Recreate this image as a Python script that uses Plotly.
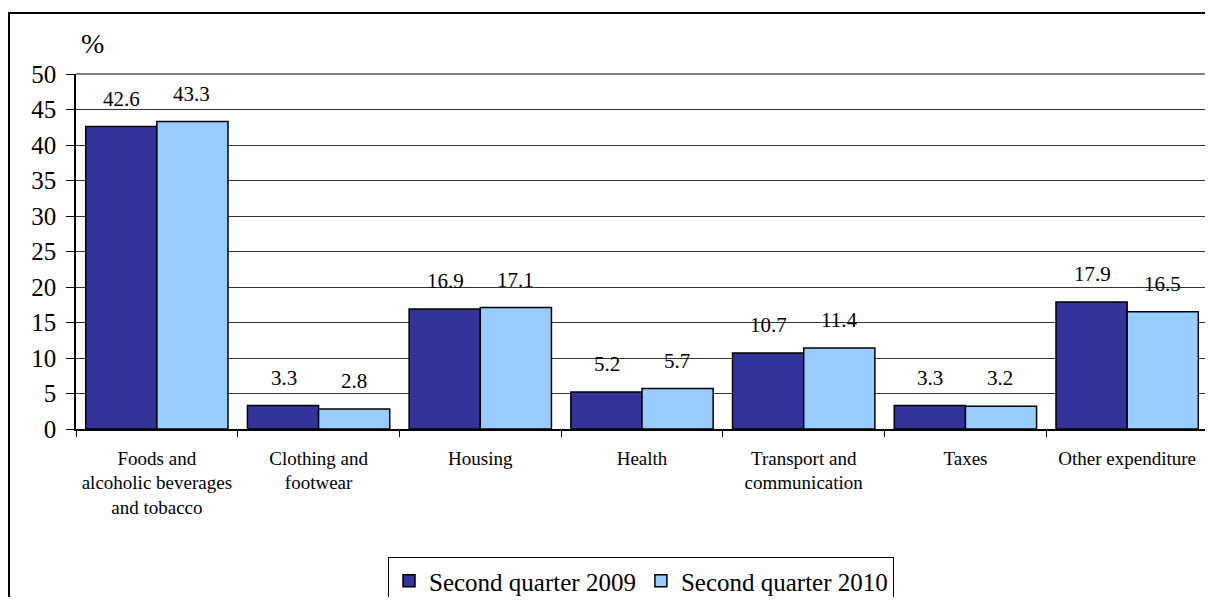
import plotly.graph_objects as go

categories = ["Foods and<br>alcoholic beverages<br>and tobacco", "Clothing and<br>footwear", "Housing",
              "Health", "Transport and<br>communication", "Taxes", "Other expenditure"]
q2_2009 = [42.6, 3.3, 16.9, 5.2, 10.7, 3.3, 17.9]
q2_2010 = [43.3, 2.8, 17.1, 5.7, 11.4, 3.2, 16.5]
series_names = ["Second quarter 2009", "Second quarter 2010"]
y_ticks = [0, 5, 10, 15, 20, 25, 30, 35, 40, 45, 50]

FONT = "Liberation Serif"
OFF = 8  # browser body margin
W, H = 1213 - OFF, 605 - 2 * OFF
L, R, T, B = 76 - OFF, 1208 - OFF, 74 - OFF, 429 - OFF

fig = go.Figure()
for name, vals, col in [(series_names[0], q2_2009, "#333399"), (series_names[1], q2_2010, "#99CCFF")]:
    fig.add_trace(go.Bar(x=categories, y=vals, name=name, marker=dict(color=col, line=dict(color="black", width=1.5))))

for i, c in enumerate(categories):
    for vals, xs in [(q2_2009, -35), (q2_2010, 35)]:
        fig.add_annotation(x=c, y=vals[i], xshift=xs, yshift=14, yanchor="bottom", showarrow=False,
                           text=f"{vals[i]:.1f}", font=dict(family=FONT, size=21, color="black"))

def px(x):
    return (x - OFF - L) / (R - L)

def py(y):
    return (B - (y - OFF)) / (B - T)

fig.add_annotation(xref="paper", yref="paper", x=px(79), y=py(44), xanchor="left", yanchor="middle",
                   text="%", showarrow=False, font=dict(family=FONT, size=28, color="black"))

fig.add_shape(type="line", xref="paper", yref="paper", x0=px(8), x1=px(1213), y0=py(13), y1=py(13),
              line=dict(color="black", width=2))
fig.add_shape(type="line", xref="paper", yref="paper", x0=px(9), x1=px(9), y0=py(13), y1=py(600),
              line=dict(color="black", width=2))
fig.add_shape(type="line", xref="paper", yref="paper", x0=0, x1=1, y0=1, y1=1, line=dict(color="#808080", width=2))
fig.add_shape(type="line", xref="paper", yref="paper", x0=1, x1=1, y0=0, y1=1, line=dict(color="#808080", width=2))

fig.update_layout(
    width=W, height=H,
    margin=dict(l=L, r=W - R, t=T, b=H - B),
    paper_bgcolor="white", plot_bgcolor="white",
    barmode="group", bargap=0.12, bargroupgap=0,
    font=dict(family=FONT, color="black"),
    showlegend=True,
    legend=dict(orientation="h", xref="container", yref="container",
                x=(641 - OFF) / W, xanchor="center", y=1 - (557 - OFF) / H, yanchor="top",
                bordercolor="black", borderwidth=1, font=dict(family=FONT, size=25, color="black"),
                itemwidth=30, tracegroupgap=0),
    xaxis=dict(showline=True, linecolor="black", linewidth=1.5, ticks="outside", tickson="boundaries",
               ticklen=6, tickcolor="black", tickfont=dict(family=FONT, size=19, color="black"),
               showgrid=False, ticklabelstandoff=11),
    yaxis=dict(range=[0, 50], tickvals=y_ticks, showline=True, linecolor="black", linewidth=1.5,
               ticks="outside", ticklen=8, tickcolor="black", showgrid=True, gridcolor="#333333", gridwidth=1,
               tickfont=dict(family=FONT, size=25, color="black"), zeroline=False, ticklabelstandoff=5),
)

fig.write_html("out.html")
